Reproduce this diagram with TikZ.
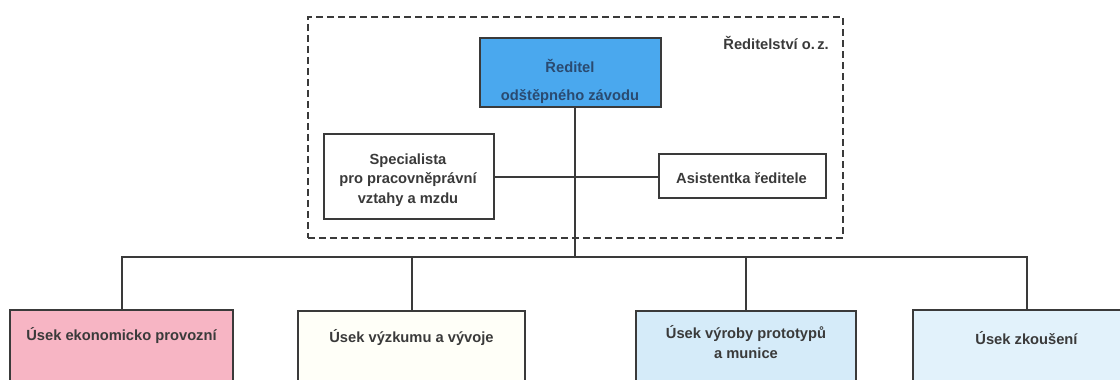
\documentclass[tikz,border=0pt]{standalone}
\usepackage{fontspec}
\setmainfont{Liberation Sans}
\definecolor{ln}{HTML}{3A3A3A}
\definecolor{tx}{HTML}{3A3A3A}
\definecolor{redfill}{HTML}{4AA8EE}
\definecolor{redtx}{HTML}{2A4A70}
\definecolor{pinkfill}{HTML}{F7B5C4}
\definecolor{whitefill}{HTML}{FFFFF8}
\definecolor{bluefill}{HTML}{D5EBF9}
\definecolor{bluefillb}{HTML}{E2F2FB}
\begin{document}
\begin{tikzpicture}[x=1pt,y=-1pt,
  every node/.style={font=\fontsize{14.7}{19.5}\selectfont\bfseries, text=tx},
  boxst/.style={draw=ln, line width=2pt, rectangle, inner sep=0pt},
  lnst/.style={draw=ln, line width=2pt},
  lbl/.style={align=center, inner sep=0pt}]
\useasboundingbox (0,0) rectangle (1120,380);
\clip (0,0) rectangle (1120,380);
% dashed group
\node[draw=ln, line width=1.7pt, dash pattern=on 7pt off 4pt, minimum width=535pt, minimum height=221pt, anchor=north west, inner sep=0pt] (grp) at (307,16) {};
\node[lbl, anchor=north east] (grplbl) at (829,36) {Ředitelství o.\,z.};
% director
\node[boxst, fill=redfill, minimum width=181pt, minimum height=69pt, anchor=north west] (red) at (479,37) {};
\node[lbl, text=redtx] (redl1) at (570,66) {Ředitel};
\node[lbl, text=redtx] (redl2) at (570,97) {odštěpného závodu};
% staff
\node[boxst, fill=white, minimum width=170pt, minimum height=85pt, anchor=north west] (spec) at (323,133) {};
\node[lbl] (specl) at (408,180) {Specialista\\pro pracovněprávní\\vztahy a mzdu};
\node[boxst, fill=white, minimum width=167pt, minimum height=44pt, anchor=north west] (asist) at (658,153) {};
\node[lbl] (asistl) at (741.5,178) {Asistentka ředitele};
\draw[lnst] (spec.east) -- (spec.east -| asist.west);
% trunk and bus
\coordinate (j) at (575,257);
\draw[lnst] (red.south -| j) -- (j);
% departments
\node[boxst, fill=pinkfill, minimum width=223pt, minimum height=100pt, anchor=north] (b1) at (121.5,309) {};
\node[boxst, fill=whitefill, minimum width=227pt, minimum height=100pt, anchor=north] (b2) at (411.5,310) {};
\node[boxst, fill=bluefill, minimum width=220pt, minimum height=100pt, anchor=north] (b3) at (746,310) {};
\node[boxst, fill=bluefillb, minimum width=227pt, minimum height=100pt, anchor=north] (b4) at (1026.5,309) {};
\node[lbl] (b1l) at (121.5,336) {Úsek ekonomicko provozní};
\node[lbl] (b2l) at (411.5,338) {Úsek výzkumu a vývoje};
\node[lbl] (b3l) at (746,342) {Úsek výroby prototypů\\a munice};
\node[lbl] (b4l) at (1026.5,338) {Úsek zkoušení};
\draw[lnst] (b1.north) -- (b1.north |- j) -- (b4.north |- j) -- (b4.north);
\draw[lnst] (b2.north) -- (b2.north |- j);
\draw[lnst] (b3.north) -- (b3.north |- j);
\end{tikzpicture}
\end{document}
